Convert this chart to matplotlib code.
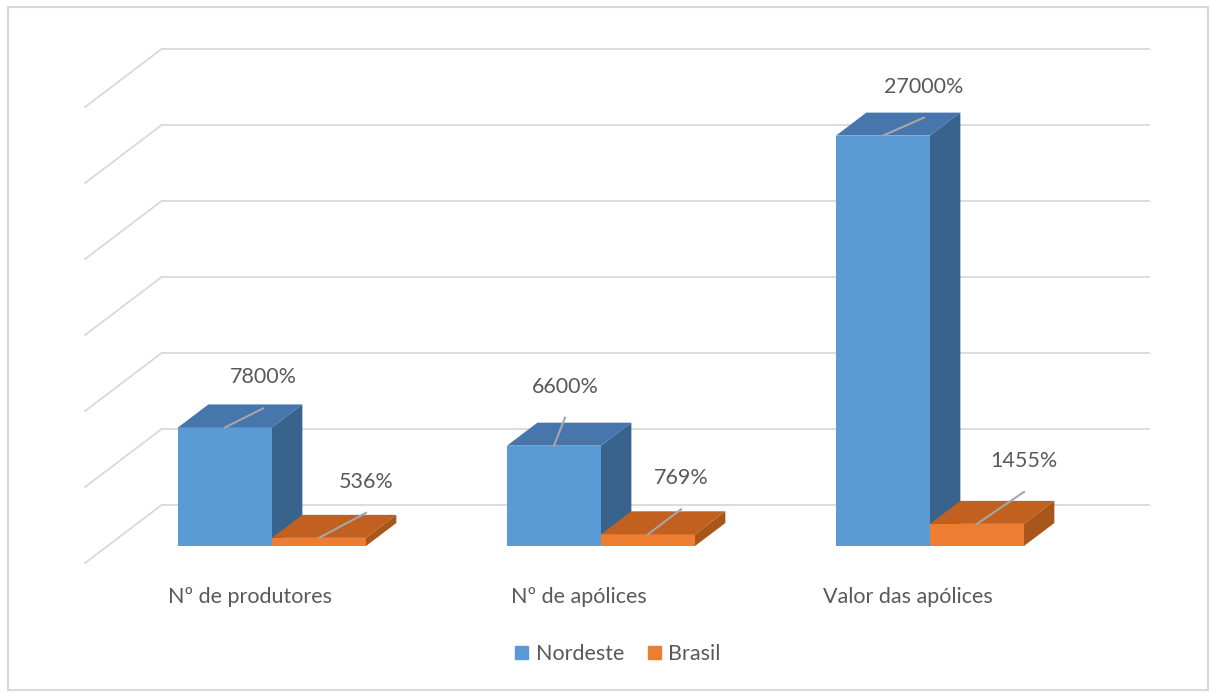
import matplotlib
matplotlib.use("Agg")
import matplotlib.pyplot as plt
from matplotlib.patches import Polygon, Rectangle, Patch

categorias = ["Nº de produtores", "Nº de apólices", "Valor das apólices"]
nordeste = [7800, 6600, 27000]
brasil = [536, 769, 1455]
rotulos_nordeste = ["7800%", "6600%", "27000%"]
rotulos_brasil = ["536%", "769%", "1455%"]
grade = [0, 5000, 10000, 15000, 20000, 25000, 30000]

plt.rcParams["font.family"] = ["Lato", "DejaVu Sans"]
COR_TEXTO = "#595959"
COR_GRADE = "#D9D9D9"
FONTE = 15.5

# cores das faces (frente, topo, lado)
azul = ("#5B9BD5", "#4676AB", "#38638D")
laranja = ("#ED7D31", "#C1601F", "#A9561B")

# escala: pixels por categoria e por unidade de valor
PX_CAT = 329.0
PX_VAL = 0.0152
LARG = 94 / PX_CAT


def prof(d):
    # deslocamento obliquo (profundidade) em unidades de dados
    return d * 1.32 / PX_CAT, d / PX_VAL


fig = plt.figure(figsize=(12.17, 7), dpi=100)
ax = fig.add_axes([0, 0, 1, 1])
ax.set_xlim(-272 / PX_CAT, (1217 - 272) / PX_CAT)
ax.set_ylim(-(700 - 546) / PX_VAL, 546 / PX_VAL)
ax.axis("off")

# grade na parede do fundo e na parede lateral
wx, wy = prof(41)
fx, fy = prof(-17)
for g in grade:
    ax.plot([-0.5 + wx, 2.5 + wx], [g + wy, g + wy], color=COR_GRADE, lw=1.3, zorder=1)
    ax.plot([-0.5 + fx, -0.5 + wx], [g + fy, g + wy], color=COR_GRADE, lw=1.3, zorder=1)

bx, by = prof(23)


def barra_3d(x0, h, cores, z):
    ax.bar(x0, h, width=LARG, align="edge", color=cores[0], zorder=z)
    topo = [(x0, h), (x0 + LARG, h), (x0 + LARG + bx, h + by), (x0 + bx, h + by)]
    lado = [(x0 + LARG, 0), (x0 + LARG, h), (x0 + LARG + bx, h + by), (x0 + LARG + bx, by)]
    ax.add_patch(Polygon(topo, closed=True, facecolor=cores[1], edgecolor="none", zorder=z))
    ax.add_patch(Polygon(lado, closed=True, facecolor=cores[2], edgecolor="none", zorder=z))


# deslocamentos dos rotulos em pixels (dx, dy)
desl_nordeste = [(38, 50), (11, 59), (41, 49)]
desl_brasil = [(47, 56), (33, 56), (47, 63)]


def rotulo(xc, h, texto, desl, z):
    dx, dy = desl
    ax.plot([xc, xc + dx / PX_CAT], [h, h + (dy - 31) / PX_VAL], color="#A6A6A6", lw=1.5, zorder=z)
    ax.annotate(texto, (xc, h), xytext=(dx, dy), textcoords="offset pixels",
                ha="center", va="center", fontsize=FONTE, color=COR_TEXTO, zorder=z)


for i in range(len(categorias)):
    barra_3d(i - LARG, nordeste[i], azul, 3 + 2 * i)
    rotulo(i - LARG / 2, nordeste[i], rotulos_nordeste[i], desl_nordeste[i], 3 + 2 * i)
    barra_3d(i, brasil[i], laranja, 4 + 2 * i)
    rotulo(i + LARG / 2, brasil[i], rotulos_brasil[i], desl_brasil[i], 4 + 2 * i)
    ax.text(i + fx, -51 / PX_VAL, categorias[i], ha="center", va="center",
            fontsize=FONTE, color=COR_TEXTO)

handles = [Patch(color=azul[0], label="Nordeste"), Patch(color=laranja[0], label="Brasil")]
fig.legend(handles=handles, loc="center", bbox_to_anchor=(618 / 1217, 1 - 654 / 700),
           ncol=2, frameon=False, handlelength=0.6, handleheight=0.6,
           columnspacing=1.1, handletextpad=0.35, fontsize=FONTE, labelcolor=COR_TEXTO)

fig.patches.append(Rectangle((8 / 1217, 10 / 700), 1200 / 1217, 683 / 700,
                             transform=fig.transFigure, fill=False,
                             edgecolor=COR_GRADE, lw=1.5))

fig.savefig("out.png", dpi=100)
